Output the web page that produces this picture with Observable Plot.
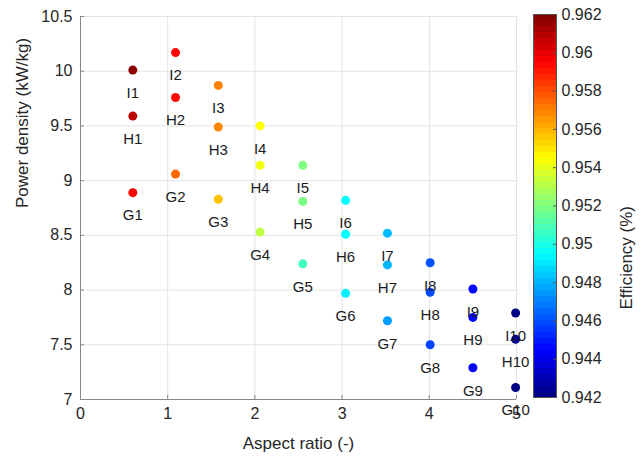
<!DOCTYPE html>
<html>
<head>
<meta charset="utf-8">
<script src="https://cdn.jsdelivr.net/npm/d3@7"></script>
<script src="https://cdn.jsdelivr.net/npm/@observablehq/plot@0.6"></script>
<style>
  html, body { margin: 0; padding: 0; background: #fff; }
  #wrap { display: flex; width: 641px; height: 458px; font-family: "Liberation Sans", Arial, sans-serif; }
  #wrap svg { overflow: visible; }
</style>
</head>
<body>
<div id="wrap"><div id="main"></div><div id="cbar"></div></div>
<script>
// Design labels (I = top row, H = middle, G = bottom) per aspect-ratio column
const labels = [
  "I1","H1","G1", "I2","H2","G2", "I3","H3","G3", "I4","H4","G4", "I5","H5","G5",
  "I6","H6","G6", "I7","H7","G7", "I8","H8","G8", "I9","H9","G9", "I10","H10","G10"
];
const aspectRatio = [
  0.60,0.60,0.60, 1.09,1.09,1.09, 1.58,1.58,1.58, 2.06,2.06,2.06, 2.55,2.55,2.55,
  3.04,3.04,3.04, 3.52,3.52,3.52, 4.01,4.01,4.01, 4.50,4.50,4.50, 4.99,4.99,4.99
];
const powerDensity = [
  10.01,9.59,8.89, 10.17,9.76,9.06, 9.87,9.49,8.83, 9.50,9.14,8.53, 9.14,8.81,8.24,
  8.82,8.51,7.97, 8.52,8.23,7.72, 8.25,7.98,7.50, 8.01,7.75,7.29, 7.79,7.55,7.11
];
const efficiency = [
  0.9617,0.9608,0.9595, 0.9594,0.9593,0.9575, 0.9570,0.9569,0.9557, 0.9545,0.9542,0.9532, 0.9520,0.9519,0.9508,
  0.9495,0.9495,0.9493, 0.9482,0.9481,0.9476, 0.9461,0.9460,0.9458, 0.9447,0.9446,0.9444, 0.9421,0.9424,0.9421
];
const xTicks = [0, 1, 2, 3, 4, 5];
const yTicks = [7, 7.5, 8, 8.5, 9, 9.5, 10, 10.5];
const cTicks = [0.942, 0.944, 0.946, 0.948, 0.95, 0.952, 0.954, 0.956, 0.958, 0.96, 0.962];

const data = labels.map((l, i) => ({label: l, x: aspectRatio[i], y: powerDensity[i], e: efficiency[i]}));

// MATLAB "jet" colormap
const clamp = v => Math.max(0, Math.min(1, v));
const jet = t => {
  const r = clamp(1.5 - Math.abs(4 * t - 3));
  const g = clamp(1.5 - Math.abs(4 * t - 2));
  const b = clamp(1.5 - Math.abs(4 * t - 1));
  return d3.rgb(r * 255, g * 255, b * 255).formatHex();
};
const colorOpts = {type: "linear", domain: [0.942, 0.962], interpolate: jet};
const fmt = d => String(+d.toFixed(3));

const main = Plot.plot({
  width: 525, height: 458,
  marginLeft: 80, marginRight: 9, marginTop: 16, marginBottom: 59,
  style: {fontFamily: "Liberation Sans, Arial, sans-serif", fontSize: "15px", color: "#262626", background: "#fff"},
  x: {domain: [0, 5]},
  y: {domain: [7, 10.5]},
  color: colorOpts,
  marks: [
    Plot.gridX(xTicks, {stroke: "#e3e3e3", strokeOpacity: 1}),
    Plot.gridY(yTicks, {stroke: "#e3e3e3", strokeOpacity: 1}),
    Plot.ruleX([0], {stroke: "#888"}),
    Plot.ruleY([7], {stroke: "#888"}),
    Plot.axisX(xTicks, {tickSize: -4, tickPadding: 12, stroke: "#888", fontSize: 16, label: null}),
    Plot.axisY(yTicks, {tickSize: -4, tickPadding: 12, stroke: "#888", fontSize: 16, tickFormat: d => String(d), label: null}),
    Plot.text(["Aspect ratio (-)"], {frameAnchor: "bottom", dy: 49, fontSize: 17, fill: "#262626"}),
    Plot.text(["Power density (kW/kg)"], {frameAnchor: "left", dx: -58, rotate: -90, fontSize: 17, fill: "#262626"}),
    Plot.dot(data, {x: "x", y: "y", fill: "e", r: 4.5}),
    Plot.text(data, {x: "x", y: "y", text: "label", dy: 23, fontSize: 15, fill: "#1a1a1a"})
  ]
});
document.getElementById("main").appendChild(main);

const cbar = Plot.plot({
  width: 116, height: 458,
  marginLeft: 8, marginRight: 85, marginTop: 14, marginBottom: 61,
  style: {fontFamily: "Liberation Sans, Arial, sans-serif", fontSize: "15px", color: "#262626", background: "transparent"},
  x: {domain: [0, 1], axis: null},
  y: {domain: [0.942, 0.962]},
  color: colorOpts,
  marks: [
    Plot.raster({x1: 0, x2: 1, y1: 0.942, y2: 0.962, fill: (x, y) => y, width: 1, height: 64, imageRendering: "pixelated"}),
    Plot.frame({stroke: "#555"}),
    Plot.axisY(cTicks, {anchor: "right", tickSize: -4, tickPadding: 9, stroke: "#555", fontSize: 16, tickFormat: fmt, label: null}),
    Plot.text(["Efficiency (%)"], {frameAnchor: "right", dx: 70, rotate: -90, fontSize: 17, fill: "#262626"})
  ]
});
document.getElementById("cbar").appendChild(cbar);
</script>
</body>
</html>
